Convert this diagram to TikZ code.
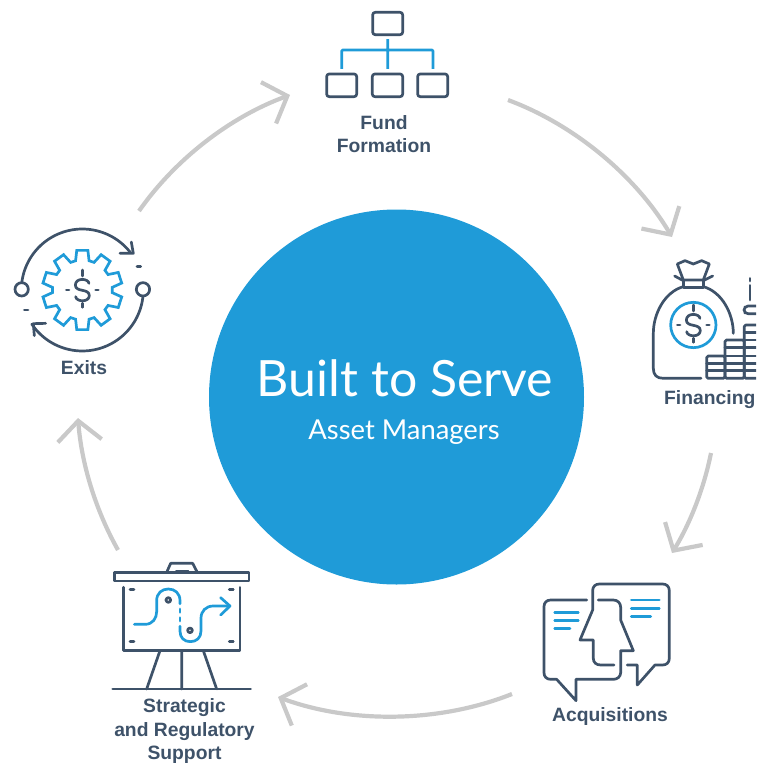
\documentclass[tikz,border=0pt]{standalone}
\usepackage{fontspec}
\setmainfont{Liberation Sans}
\newfontfamily\lightfont{Lato}
\usetikzlibrary{arrows.meta}
\definecolor{ink}{HTML}{3E5269}
\definecolor{sky}{HTML}{1F9BD8}
\definecolor{ring}{HTML}{C9C9C9}
\tikzset{
  x=1pt,y=-1pt,
  lab/.style={font=\fontsize{19.3}{23.5}\selectfont\bfseries,text=ink,align=center,inner sep=0pt},
  cyc/.style={ring,line width=4.2pt,looseness=.85,-{Straight Barb[length=20pt,width=44pt]}},
  dk/.style={ink,line width=2.7pt,line cap=round,line join=round},
  bl/.style={sky,line width=2.7pt,line cap=round,line join=round},
  dollarsign/.pic={
    \draw[dk] (20,-20) .. controls (18,-35) and (-20,-38) .. (-21,-15) .. controls (-21,8) and (21,-6) .. (21,17) .. controls (20,38) and (-18,36) .. (-20,20);
    \draw[dk] (0,-60) -- (0,-42) (0,40) -- (0,52);
    \draw[dk] (-48,0) -- (-40,0) (40,0) -- (48,0);
  }
}
\begin{document}
\begin{tikzpicture}
\clip (0,0) rectangle (756,764);
\useasboundingbox (0,0) rectangle (756,764);
% central disc
\node[circle,fill=sky,minimum size=375pt,inner sep=0pt] (hub) at (396.5,397) {};
\node[text=white,inner sep=0pt,font=\lightfont\fontsize{50}{60}\selectfont] (title) at (405,378) {Built to Serve};
\node[text=white,inner sep=0pt,font=\lightfont\fontsize{27.4}{30}\selectfont] (sub) at (404,432) {Asset Managers};
% labels
\node[lab] (fund) at (384,134) {Fund\\Formation};
\node[lab,anchor=west] (fin) at (664,400) {Financing};
\node[lab] (acq) at (610,717) {Acquisitions};
\node[lab] (strat) at (184.5,731.5) {Strategic\\and Regulatory\\Support};
\node[lab] (exits) at (84,368) {Exits};
% cycle
\coordinate (a1) at (508,100); \coordinate (a2) at (672,237);
\coordinate (b1) at (711,453); \coordinate (b2) at (672,553);
\coordinate (c1) at (512,694); \coordinate (c2) at (278,697);
\coordinate (d1) at (118,550); \coordinate (d2) at (78,418);
\coordinate (e1) at (139,211); \coordinate (e2) at (290,95);
\draw[cyc] (a1) to[bend left=19.5] (a2);
\draw[cyc] (b1) to[bend left=10] (b2);
\draw[cyc] (c1) to[bend left=21] (c2);
\draw[cyc] (d1) to[bend left=12.5] (d2);
\draw[cyc] (e1) to[bend left=17.5] (e2);
% Fund icon
\begin{scope}[shift={(310,0)},x=.3333pt,y=-.3333pt]
\draw[dk,rounded corners=2.5pt] (188,37) rectangle (278,104);
\draw[dk,rounded corners=2.5pt] (50,222) rectangle (140,290);
\draw[dk,rounded corners=2.5pt] (187,222) rectangle (278,290);
\draw[dk,rounded corners=2.5pt] (323,222) rectangle (413,290);
\draw[bl,line cap=butt,rounded corners=1pt] (233,117) -- (233,207) (95,207) -- (95,150) -- (369,150) -- (369,207);
\end{scope}
% Financing icon
\begin{scope}[shift={(640,250)},x=.3333pt,y=-.3333pt]
\draw[dk] (130,90) -- (112,42) -- (135,32) -- (160,42) -- (185,32) -- (208,42) -- (190,90) -- cycle;
\draw[dk] (130,90) rectangle (190,112);
\draw[dk] (130,92) -- (104,78) (190,92) -- (218,78);
\draw[dk] (130,110) .. controls (75,125) and (40,190) .. (40,250) -- (40,355) .. controls (40,375) and (50,385) .. (70,385) -- (183,385);
\draw[dk] (190,110) .. controls (245,125) and (280,190) .. (280,250);
\draw[bl] (160,225) circle (68);
\pic at (160,225) {dollarsign};
\draw[dk,rounded corners=1.5pt] (200,318) rectangle (255,385);
\draw[dk] (200,340) -- (255,340) (200,362) -- (255,362);
\draw[dk,rounded corners=1.5pt] (255,270) rectangle (313,385);
\draw[dk] (255,293) -- (313,293) (255,318) -- (313,318) (255,340) -- (313,340) (255,362) -- (313,362);
\draw[dk,rounded corners=1.5pt] (313,225) rectangle (370,385);
\draw[dk] (313,248) -- (370,248) (313,270) -- (370,270) (313,293) -- (370,293) (313,318) -- (370,318) (313,340) -- (370,340) (313,362) -- (370,362);
\draw[dk,rounded corners=2pt] (370,168) -- (318,168) -- (312,175) -- (312,185) -- (318,191) -- (370,191);
\draw[dk] (330,85) -- (330,93) (330,106) -- (330,150);
\end{scope}
% Acquisitions icon
\begin{scope}[shift={(530,570)},x=.3333pt,y=-.3333pt]
\draw[dk] (170,90) -- (62,90) .. controls (50,90) and (42,98) .. (42,110) -- (42,308) .. controls (42,320) and (50,328) .. (62,328) -- (80,328) -- (138,392) -- (138,328) -- (250,328) .. controls (262,328) and (272,320) .. (272,308) -- (272,242) -- (310,242) -- (272,150) -- (272,112) .. controls (272,100) and (264,90) .. (250,90) -- (205,90);
\draw[dk] (252,285) -- (212,285) .. controls (198,285) and (190,277) .. (190,265) -- (190,210) -- (150,210) -- (188,120) -- (188,62) .. controls (188,50) and (196,42) .. (208,42) -- (398,42) .. controls (410,42) and (418,50) .. (418,62) -- (418,265) .. controls (418,277) and (410,285) .. (398,285) -- (375,285) -- (322,345) -- (322,285) -- (292,285);
\draw[bl] (74,127) -- (145,127) (74,151) -- (145,151) (74,175) -- (120,175);
\draw[bl] (304,90) -- (388,90) (304,115) -- (388,115) (304,139) -- (362,139);
\end{scope}
% Strategic icon
\begin{scope}[shift={(100,555)},x=.3333pt,y=-.3333pt]
\draw[dk] (43,52) rectangle (447,78);
\draw[dk] (200,52) -- (212,25) -- (278,25) -- (292,52);
\draw[dk] (228,50) -- (265,50);
\draw[dk] (70,97) -- (70,287) -- (420,287) -- (420,97);
\draw[dk] (90,103) -- (102,103) (388,103) -- (400,103) (90,259) -- (102,259) (388,259) -- (400,259);
\draw[bl] (103,208) -- (135,208) .. controls (158,208) and (170,190) .. (170,170) -- (170,137) .. controls (170,115) and (185,102) .. (205,102) .. controls (225,102) and (240,115) .. (240,137) -- (240,146);
\draw[bl] (240,162) -- (240,172) (240,188) -- (240,198);
\draw[bl] (240,214) -- (240,228) .. controls (240,248) and (252,260) .. (271,260) .. controls (290,260) and (303,248) .. (303,228) -- (303,190) .. controls (303,168) and (318,153) .. (340,153) -- (388,153);
\draw[bl] (362,128) -- (390,153) -- (362,180);
\draw[dk] (205,135) circle (7) (270,226) circle (7);
\draw[dk] (245,287) -- (245,402) (180,287) -- (140,402) (310,287) -- (350,402);
\draw[dk] (38,402) -- (452,402);
\end{scope}
% Exits icon
\begin{scope}[shift={(5,220)},x=.3333pt,y=-.3333pt]
\draw[bl,shift={(232,210)},line join=miter] (-90-13:90)
  \foreach \a in {-90,-54,-18,18,54,90,126,162,198,234} {
    -- (\a-13:90) -- (\a-8:120) -- (\a+8:120) -- (\a+13:90)
  } -- cycle;
\pic at (232,210) {dollarsign};
\draw[dk] plot[smooth,domain=187:322,samples=30] ({232+183*cos(\x)},{210+183*sin(\x)});
\draw[dk] plot[smooth,domain=6:146,samples=30] ({232+183*cos(\x)},{210+183*sin(\x)});
\draw[dk] (345,100) -- (385,100) -- (379,66);
\draw[dk] (122,310) -- (85,311) -- (88,347);
\draw[dk] (50,208) circle (20) (414,208) circle (20);
\draw[dk] (396,140) -- (407,140) (58,270) -- (69,270);
\end{scope}
\end{tikzpicture}
\end{document}
